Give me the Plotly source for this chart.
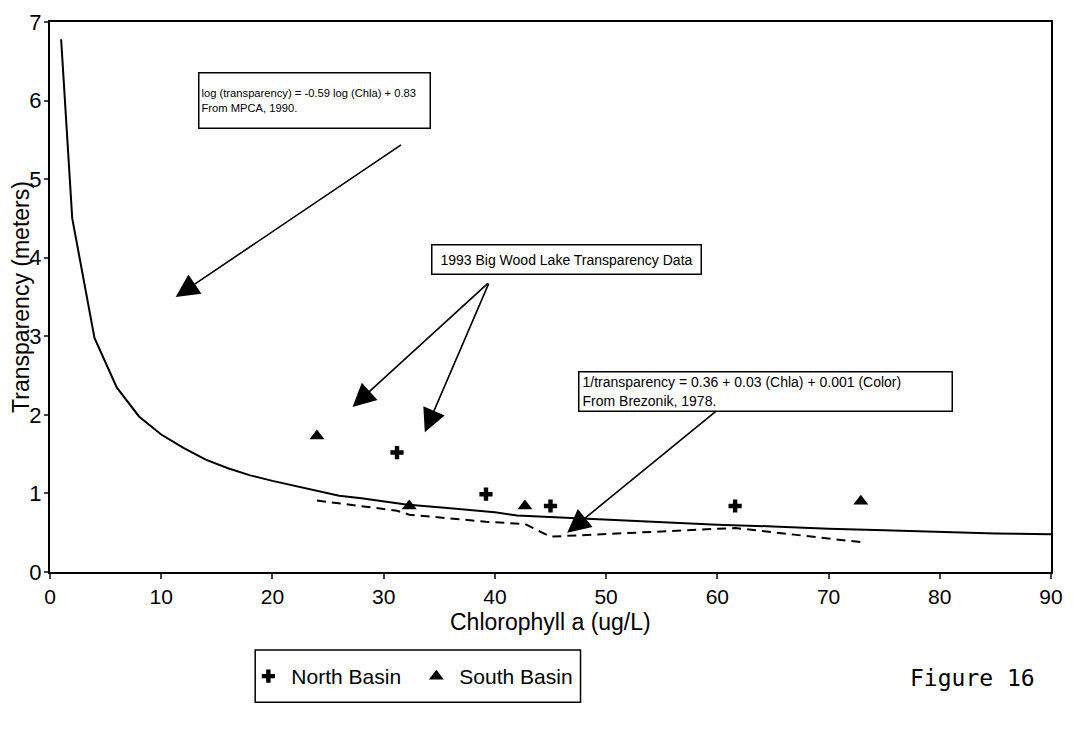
import plotly.graph_objects as go

# --- data ---
mpca_chla = [1, 2, 4, 6, 8, 10, 12, 14, 16, 18, 20, 24, 26, 28, 30, 32, 36, 40, 42, 45, 50, 55, 60, 65, 70, 75, 80, 85, 90]
mpca_trans = [6.78, 4.50, 2.98, 2.35, 1.98, 1.75, 1.58, 1.43, 1.32, 1.23, 1.16, 1.03, 0.97, 0.94, 0.90, 0.86,
              0.81, 0.76, 0.72, 0.70, 0.67, 0.63, 0.60, 0.58, 0.55, 0.53, 0.51, 0.49, 0.48]

brez_chla = [24.0, 31.2, 32.3, 39.2, 42.7, 45.0, 61.6, 72.9]
brez_trans = [0.91, 0.78, 0.73, 0.64, 0.61, 0.45, 0.56, 0.38]

north_chla = [31.2, 39.2, 45.0, 61.6]
north_trans = [1.52, 0.99, 0.84, 0.84]
south_chla = [24.0, 32.3, 42.7, 72.9]
south_trans = [1.73, 0.84, 0.84, 0.90]

x_ticks = [0, 10, 20, 30, 40, 50, 60, 70, 80, 90]
y_ticks = [0, 1, 2, 3, 4, 5, 6, 7]

FONT = "Liberation Sans, Arial, Helvetica, sans-serif"

fig = go.Figure()
fig.add_trace(go.Scatter(x=mpca_chla, y=mpca_trans, mode="lines",
                         line=dict(color="black", width=2), showlegend=False))
fig.add_trace(go.Scatter(x=brez_chla, y=brez_trans, mode="lines",
                         line=dict(color="black", width=2, dash="9px,6px"), showlegend=False))
fig.add_trace(go.Scatter(x=north_chla, y=north_trans, mode="markers", name="North Basin",
                         marker=dict(symbol="cross", size=11, color="black")))
fig.add_trace(go.Scatter(x=south_chla, y=south_trans, mode="markers", name="South Basin",
                         marker=dict(symbol="triangle-up", size=13, color="black")))

ann = []
# text boxes
ann.append(dict(xref="x", yref="y", x=13.3, y=6.36, xanchor="left", yanchor="top",
                text="log (transparency) = -0.59 log (Chla) + 0.83<br>From MPCA, 1990.",
                width=226, height=50,
                showarrow=False, align="left", valign="middle", font=dict(family=FONT, size=11.2, color="black"),
                bordercolor="black", borderwidth=1.5, bgcolor="white", borderpad=2))
ann.append(dict(xref="x", yref="y", x=34.3, y=4.18, xanchor="left", yanchor="top",
                text="1993 Big Wood Lake Transparency Data", width=262, height=22,
                showarrow=False, align="center", font=dict(family=FONT, size=14, color="black"),
                bordercolor="black", borderwidth=1.5, bgcolor="white", borderpad=3))
ann.append(dict(xref="x", yref="y", x=47.5, y=2.56, xanchor="left", yanchor="top",
                text="1/transparency = 0.36 + 0.03 (Chla) + 0.001 (Color)<br>From Brezonik, 1978.",
                width=366, height=32,
                showarrow=False, align="left", valign="middle", font=dict(family=FONT, size=14, color="black"),
                bordercolor="black", borderwidth=1.5, bgcolor="white", borderpad=3))
# arrows: (tip), (tail)
arrows = [((11.3, 3.5), (31.7, 5.45)),
          ((27.2, 2.10), (39.5, 3.69)),
          ((33.7, 1.78), (39.5, 3.69)),
          ((46.5, 0.50), (60.0, 2.06))]
for (tx, ty), (sx, sy) in arrows:
    ann.append(dict(xref="x", yref="y", axref="x", ayref="y", x=tx, y=ty, ax=sx, ay=sy,
                    text="", showarrow=True, arrowhead=2, arrowsize=2.9, arrowwidth=1.6,
                    arrowcolor="black"))
# x-axis title placed just under the tick labels
ann.append(dict(xref="paper", yref="paper", x=0.5, y=-0.09, xanchor="center", yanchor="middle",
                text="Chlorophyll a (ug/L)", showarrow=False, font=dict(family=FONT, size=23, color="black")))
ann.append(dict(xref="paper", yref="paper", x=0.922, y=-0.193, xanchor="center", yanchor="middle",
                text="Figure 16", showarrow=False,
                font=dict(family="DejaVu Sans Mono, Liberation Mono, monospace", size=23, color="black")))

fig.update_layout(
    width=1092, height=756,
    margin=dict(l=42, r=49, t=14, b=192),
    paper_bgcolor="white", plot_bgcolor="white",
    font=dict(family=FONT, color="black"),
    annotations=ann,
    shapes=[dict(type="rect", xref="paper", yref="paper", x0=0.205, x1=0.530, y0=-0.2366, y1=-0.1416,
                 line=dict(color="black", width=1.5), fillcolor="rgba(0,0,0,0)")],
    legend=dict(orientation="h", x=0.363, xanchor="center", y=-0.19, yanchor="middle",
                borderwidth=0, bgcolor="rgba(0,0,0,0)", font=dict(family=FONT, size=21),
                entrywidth=117, itemwidth=36),
    xaxis=dict(range=[0, 90], tickvals=x_ticks, ticks="outside", ticklen=5, tickwidth=1.5,
               showline=True, linecolor="black", linewidth=2, mirror=True, showgrid=False,
               zeroline=False, tickfont=dict(size=21), automargin=False),
    yaxis=dict(range=[0, 7], tickvals=y_ticks, ticks="outside", ticklen=4, tickwidth=1.5,
               showline=True, linecolor="black", linewidth=2, mirror=True, showgrid=False,
               zeroline=False, tickfont=dict(size=22), automargin=False, ticklabelstandoff=-2,
               title=dict(text="Transparency (meters)", font=dict(size=23), standoff=0)),
)

fig.write_html("out.html")
